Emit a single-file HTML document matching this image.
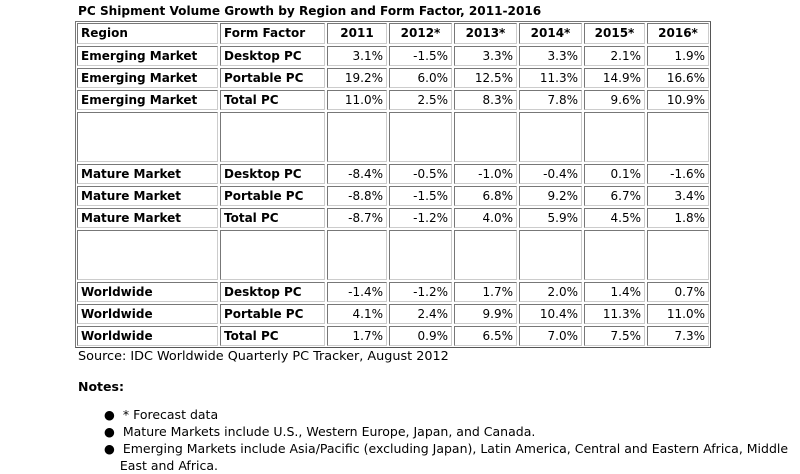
<!DOCTYPE html>
<html><head><meta charset="utf-8"><style>
body{margin:0;width:800px;height:474px;background:#fff;font-family:"DejaVu Sans","Liberation Sans",sans-serif;color:#000;position:relative;overflow:hidden}
.t{position:absolute;white-space:nowrap}
#tbl{position:absolute;left:75px;top:21px;width:636px;height:327px;border:1px solid #777;border-right-color:#555;border-bottom-color:#555;box-sizing:border-box}
.c{position:absolute;box-sizing:border-box;border:1px solid #999;border-top-color:#777;border-left-color:#777;border-right-color:#ccc;border-bottom-color:#ccc;font-size:12px;line-height:18px;padding:0 3px;white-space:nowrap;overflow:hidden}
.b{font-weight:bold}
.r{text-align:right}
.h{text-align:center;font-weight:bold}
</style></head><body>
<div class="t b" style="left:78px;top:4px;font-size:12.1px">PC Shipment Volume Growth by Region and Form Factor, 2011-2016</div>
<div id="tbl"></div>
<div class="t" style="left:78px;top:349px;font-size:12.8px">Source: IDC Worldwide Quarterly PC Tracker, August 2012</div>
<div class="t b" style="left:78px;top:379px;font-size:12.5px">Notes:</div>
<div style="position:absolute;left:104px;top:406px;font-size:12.5px;line-height:17px">
<div>●&nbsp; * Forecast data</div>
<div>●&nbsp; Mature Markets include U.S., Western Europe, Japan, and Canada.</div>
<div>●&nbsp; Emerging Markets include Asia/Pacific (excluding Japan), Latin America, Central and Eastern Africa, Middle<br>&nbsp;&nbsp;&nbsp;&nbsp;East and Africa.</div>
</div>
<script>
const headers=["Region","Form Factor","2011","2012*","2013*","2014*","2015*","2016*"];
const regions=["Emerging Market","Emerging Market","Emerging Market","","Mature Market","Mature Market","Mature Market","","Worldwide","Worldwide","Worldwide"];
const forms=["Desktop PC","Portable PC","Total PC","","Desktop PC","Portable PC","Total PC","","Desktop PC","Portable PC","Total PC"];
const values=[
["3.1%","-1.5%","3.3%","3.3%","2.1%","1.9%"],
["19.2%","6.0%","12.5%","11.3%","14.9%","16.6%"],
["11.0%","2.5%","8.3%","7.8%","9.6%","10.9%"],
null,
["-8.4%","-0.5%","-1.0%","-0.4%","0.1%","-1.6%"],
["-8.8%","-1.5%","6.8%","9.2%","6.7%","3.4%"],
["-8.7%","-1.2%","4.0%","5.9%","4.5%","1.8%"],
null,
["-1.4%","-1.2%","1.7%","2.0%","1.4%","0.7%"],
["4.1%","2.4%","9.9%","10.4%","11.3%","11.0%"],
["1.7%","0.9%","6.5%","7.0%","7.5%","7.3%"]];
const tbl=document.getElementById('tbl');
const colX=[76,219,326,388,453,518,583,646,710];
function cell(x0,x1,y,h,txt,cls,name){
 const d=document.createElement('div');
 d.className='c '+cls;
 d.style.left=(x0+1-76)+'px';d.style.top=(y-22)+'px';
 d.style.width=(x1-x0-2)+'px';d.style.height=h+'px';
 d.style.lineHeight=(h-2)+'px';
 d.textContent=txt;
 
 
 tbl.appendChild(d);
}
let y=23;
headers.forEach((t,i)=>cell(colX[i],colX[i+1],y,21,t,i<2?'b':'h','header-'+t.replace('*','').toLowerCase().replace(' ','-')));
y=46;
regions.forEach((r,ri)=>{
 const blank=values[ri]===null;
 const h=blank?50:20;
 cell(colX[0],colX[1],y,h,r,'b','region-cell');
 cell(colX[1],colX[2],y,h,forms[ri],'b','form-factor-cell');
 for(let k=0;k<6;k++) cell(colX[k+2],colX[k+3],y,h,blank?'':values[ri][k],'r','value-cell');
 y+=h+2;
});
</script>
</body></html>
